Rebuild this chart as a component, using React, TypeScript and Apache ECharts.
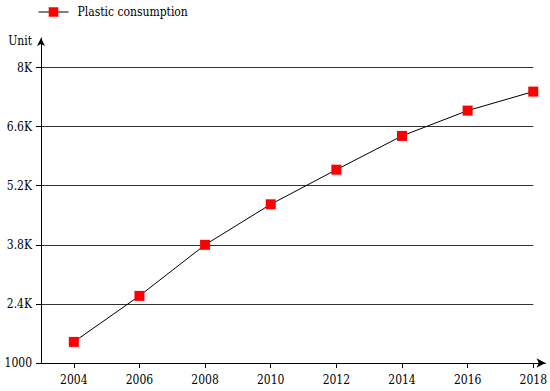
import React, { useEffect, useRef } from 'react';
import * as echarts from 'echarts';

// Yearly plastic consumption, sampled every two years
const years = [2004, 2006, 2008, 2010, 2012, 2014, 2016, 2018];
const consumption = [1500, 2590, 3800, 4760, 5580, 6380, 6980, 7430];
const yTicks = [1000, 2400, 3800, 5200, 6600, 8000];
const seriesName = 'Plastic consumption';
const yAxisName = 'Unit';

const FONT = 'DejaVu Serif Condensed';
const FONT_SIZE = 12;

function formatY(v: number): string {
  return v === 1000 ? '1000' : `${v / 1000}K`;
}

export default function App() {
  const ref = useRef<HTMLDivElement>(null);

  useEffect(() => {
    document.body.style.margin = '0';
    if (!ref.current) return;
    const chart = echarts.init(ref.current, undefined, { renderer: 'svg' });

    const gridBox = { left: 41, right: 16, top: 38, bottom: 28 };
    const text = { fontFamily: FONT, fontSize: FONT_SIZE, color: '#000' };

    chart.setOption({
      animation: false,
      textStyle: { fontFamily: FONT },
      legend: {
        left: 38,
        top: 6,
        padding: 0,
        itemWidth: 30,
        itemHeight: 12,
        lineStyle: { width: 1 },
        textStyle: { ...text, padding: [0, 0, 0, 4] },
        data: [seriesName],
      },
      grid: [
        { ...gridBox, containLabel: false },
        // wider twin grid, used only to carry the extended x-axis line with its arrow
        { left: gridBox.left, right: 4.5, top: gridBox.top, bottom: gridBox.bottom, containLabel: false },
      ],
      xAxis: [
        {
          type: 'value',
          gridIndex: 0,
          min: 2003,
          max: 2018,
          axisLine: { show: false },
          axisTick: {
            show: true,
            length: 5,
            customValues: years,
            lineStyle: { color: '#000', width: 1 },
          },
          axisLabel: {
            ...text,
            customValues: years,
            formatter: (v: number) => String(v),
            margin: 11,
          },
          splitLine: { show: false },
        },
        {
          type: 'value',
          gridIndex: 1,
          min: 0,
          max: 1,
          axisLine: {
            show: true,
            onZero: false,
            symbol: ['none', 'arrow'],
            symbolSize: [7, 9],
            lineStyle: { color: '#000', width: 1 },
          },
          axisTick: { show: false },
          axisLabel: { show: false },
          splitLine: { show: false },
        },
      ],
      yAxis: [
        {
          type: 'value',
          gridIndex: 0,
          min: 1000,
          max: 8700,
          name: yAxisName,
          nameLocation: 'end',
          nameGap: -3,
          nameTextStyle: {
            ...text,
            align: 'right',
            verticalAlign: 'middle',
            padding: [0, 9, 0, 0],
          },
          axisLine: {
            show: true,
            onZero: false,
            symbol: ['none', 'arrow'],
            symbolSize: [6, 8],
            lineStyle: { color: '#000', width: 1 },
          },
          axisTick: {
            show: true,
            length: 5,
            customValues: yTicks,
            lineStyle: { color: '#000', width: 1 },
          },
          axisLabel: {
            ...text,
            customValues: yTicks,
            formatter: formatY,
            margin: 9,
          },
          splitLine: { show: true, lineStyle: { color: '#333', width: 1 } },
        },
        {
          type: 'value',
          gridIndex: 1,
          show: false,
        },
      ],
      series: [
        {
          name: seriesName,
          type: 'line',
          xAxisIndex: 0,
          yAxisIndex: 0,
          data: years.map((y, i) => [y, consumption[i]]),
          symbol: 'rect',
          symbolSize: 10,
          showSymbol: true,
          itemStyle: { color: '#ff0000' },
          lineStyle: { color: '#000', width: 1 },
          emphasis: { disabled: true },
        },
      ],
    });

    return () => chart.dispose();
  }, []);

  return (
    <div
      ref={ref}
      style={{ position: 'fixed', left: 0, top: 0, width: 550, height: 391, background: '#fff' }}
    />
  );
}
